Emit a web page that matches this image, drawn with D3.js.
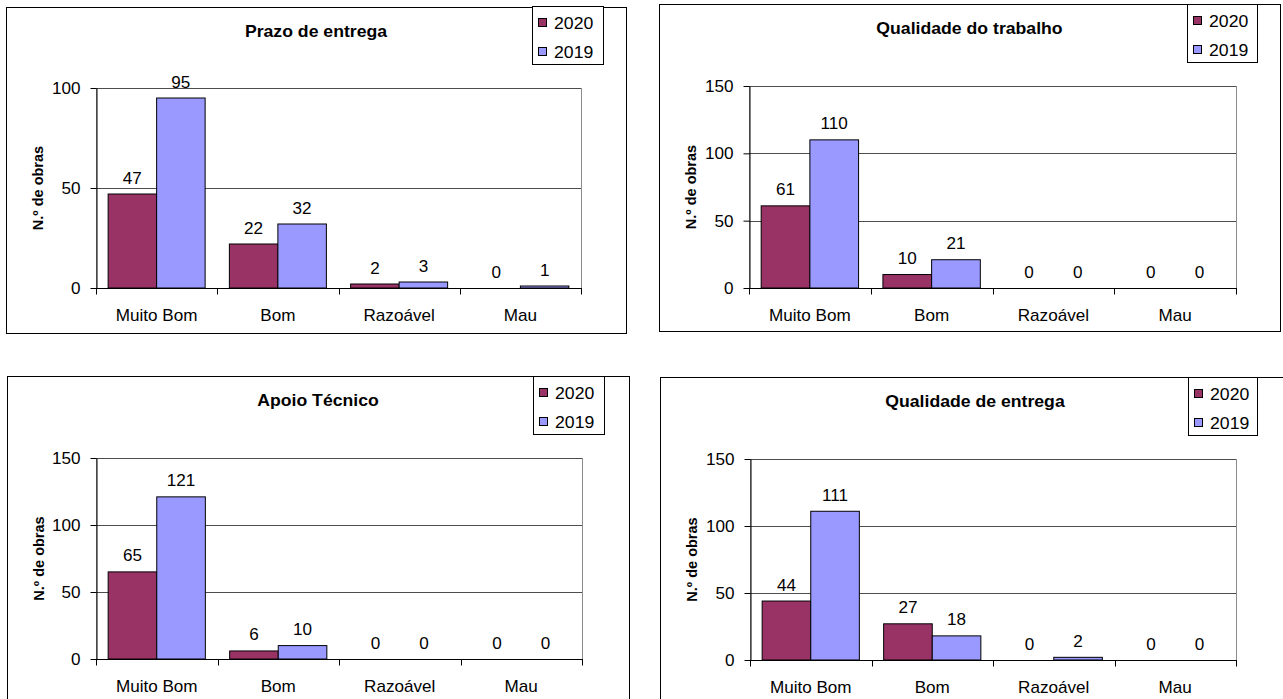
<!DOCTYPE html>
<html>
<head>
<meta charset="utf-8">
<script src="https://cdn.jsdelivr.net/npm/d3@7"></script>
<style>
  html, body { margin: 0; padding: 0; background: #fff; }
  svg { display: block; }
  text { font-family: "Liberation Sans", Arial, sans-serif; fill: #000; }
</style>
</head>
<body>
<script>
// ---------- data ----------
const categories = ["Muito Bom", "Bom", "Razoável", "Mau"];
const seriesNames = ["2020", "2019"];
const seriesColors = ["#993366", "#9999FF"];

const titles = ["Prazo de entrega", "Qualidade do trabalho", "Apoio Técnico", "Qualidade de entrega"];
const yAxisTitle = "N.º de obras";

const prazo2020 = [47, 22, 2, 0];
const prazo2019 = [95, 32, 3, 1];
const qualTrab2020 = [61, 10, 0, 0];
const qualTrab2019 = [110, 21, 0, 0];
const apoio2020 = [65, 6, 0, 0];
const apoio2019 = [121, 10, 0, 0];
const qualEnt2020 = [44, 27, 0, 0];
const qualEnt2019 = [111, 18, 2, 0];

const ticksSmall = [0, 50, 100];
const ticksLarge = [0, 50, 100, 150];

// ---------- layout ----------
const panels = [
  { title: titles[0], s: [prazo2020, prazo2019], ticks: ticksSmall,
    box: [6, 7, 626, 333], plot: [96, 88, 581, 288], legend: [532, 6, 71, 58] },
  { title: titles[1], s: [qualTrab2020, qualTrab2019], ticks: ticksLarge,
    box: [659, 4, 1280, 331], plot: [749, 86, 1236, 288], legend: [1187, 4, 70, 58] },
  { title: titles[2], s: [apoio2020, apoio2019], ticks: ticksLarge,
    box: [7, 376, 629, 705], plot: [96, 458, 582, 659], legend: [533, 376, 71, 58] },
  { title: titles[3], s: [qualEnt2020, qualEnt2019], ticks: ticksLarge,
    box: [660, 377, 1290, 705], plot: [750, 459, 1236, 660], legend: [1188, 377, 69, 58] }
];

const SX = 1.07; // horizontal text stretch seen in the reference

const svg = d3.select("body").append("svg")
  .attr("width", 1283).attr("height", 699);

function stretchedText(g, x, y, str, size, anchor, weight) {
  return g.append("text")
    .attr("transform", `translate(${x},${y}) scale(${SX},1)`)
    .attr("text-anchor", anchor)
    .style("font-size", size + "px")
    .style("font-weight", weight || "normal")
    .text(str);
}

panels.forEach(p => {
  const g = svg.append("g");
  const [bx0, by0, bx1, by1] = p.box;
  const [px0, py0, px1, py1] = p.plot;

  // outer chart border
  g.append("rect")
    .attr("x", bx0 + 0.5).attr("y", by0 + 0.5)
    .attr("width", bx1 - bx0).attr("height", by1 - by0)
    .attr("fill", "#fff").attr("stroke", "#000").attr("stroke-width", 1);

  const x0 = d3.scaleBand().domain(categories).range([px0, px1]).padding(0);
  const x1 = d3.scaleBand().domain(seriesNames).range([0, x0.bandwidth()])
    .paddingInner(0).paddingOuter(0.25);
  const y = d3.scaleLinear().domain([0, d3.max(p.ticks)]).range([py1, py0]);

  // plot area border (gray)
  g.append("rect")
    .attr("x", px0 + 0.5).attr("y", y(d3.max(p.ticks)) + 0.5)
    .attr("width", px1 - px0).attr("height", py1 - py0)
    .attr("fill", "none").attr("stroke", "#8c8c8c");

  // gridlines
  g.selectAll(".grid").data(p.ticks.filter(t => t > 0)).enter().append("line")
    .attr("x1", px0).attr("x2", px1)
    .attr("y1", d => Math.round(y(d)) + 0.5).attr("y2", d => Math.round(y(d)) + 0.5)
    .attr("stroke", "#4d4d4d");

  // bars
  p.s.forEach((vals, si) => {
    g.selectAll(".bar" + si).data(vals).enter().append("rect")
      .attr("x", (d, i) => x0(categories[i]) + x1(seriesNames[si]))
      .attr("y", d => y(d))
      .attr("width", x1.bandwidth())
      .attr("height", d => y(0) - y(d))
      .attr("fill", seriesColors[si])
      .attr("stroke", d => d > 0 ? "#000" : "none")
      .attr("stroke-width", 1);
    vals.forEach((d, i) => {
      stretchedText(g, x0(categories[i]) + x1(seriesNames[si]) + x1.bandwidth() / 2,
        y(d) - 10.5, String(d), 16, "middle");
    });
  });

  // y axis
  const ya = g.append("g").attr("transform", `translate(${px0 + 0.5},0)`)
    .call(d3.axisLeft(y).tickValues(p.ticks).tickSize(6).tickSizeOuter(0).tickPadding(9));
  ya.select(".domain").attr("stroke", "#000");
  ya.selectAll(".tick line").attr("stroke", "#000");
  ya.selectAll(".tick text")
    .attr("fill", "#000")
    .style("font-size", "16px")
    .style("font-family", '"Liberation Sans", Arial, sans-serif')
    .attr("dy", "0.34em")
    .attr("transform", `scale(${SX},1)`);

  // x axis line and category boundary ticks
  g.append("line").attr("x1", px0).attr("x2", px1 + 1)
    .attr("y1", y(0) + 0.5).attr("y2", y(0) + 0.5).attr("stroke", "#000");
  const bounds = categories.map(c => x0(c)).concat([x0.range()[1]]);
  g.selectAll(".xt").data(bounds).enter().append("line")
    .attr("x1", d => Math.round(d) + 0.5).attr("x2", d => Math.round(d) + 0.5)
    .attr("y1", y(0)).attr("y2", y(0) + 6.5).attr("stroke", "#000");
  categories.forEach(c => {
    stretchedText(g, x0(c) + x0.bandwidth() / 2, y(0) + 33, c, 16, "middle");
  });

  // title
  stretchedText(g, (bx0 + bx1) / 2, by0 + 30, p.title, 16.5, "middle", "bold");

  // y axis title
  g.append("text")
    .attr("transform", `translate(${bx0 + 37},${(py0 + py1) / 2}) rotate(-90)`)
    .attr("text-anchor", "middle")
    .style("font-size", "14.5px").style("font-weight", "bold")
    .text(yAxisTitle);

  // legend
  const [lx, ly, lw, lh] = p.legend;
  const lg = g.append("g");
  lg.append("rect").attr("x", lx + 0.5).attr("y", ly + 0.5)
    .attr("width", lw).attr("height", lh)
    .attr("fill", "#fff").attr("stroke", "#000");
  seriesNames.forEach((name, i) => {
    lg.append("rect")
      .attr("x", lx + 6.5).attr("y", ly + 12.5 + i * 29)
      .attr("width", 8).attr("height", 8)
      .attr("fill", seriesColors[i]).attr("stroke", "#000");
    stretchedText(lg, lx + 22, ly + 23 + i * 28.5, name, 16.5, "start");
  });
});
</script>
</body>
</html>
